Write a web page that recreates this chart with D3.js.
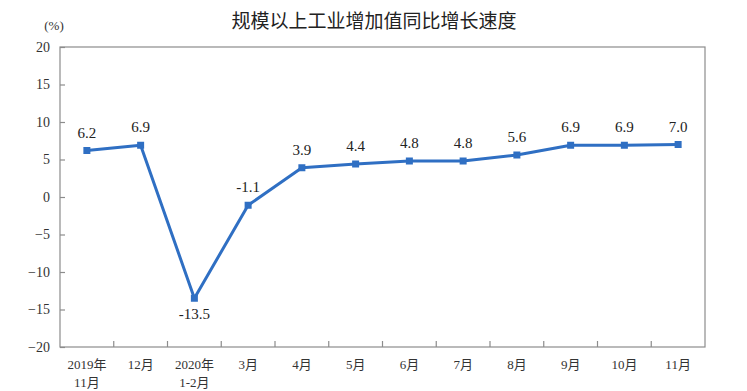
<!DOCTYPE html>
<html>
<head>
<meta charset="utf-8">
<script src="https://cdn.jsdelivr.net/npm/d3@7"></script>
<style>
  body { margin: 0; background: #fff; }
</style>
</head>
<body>
<div id="chart"></div>
<script>
// chart data
var months = ["2019年\n11月", "12月", "2020年\n1-2月", "3月", "4月", "5月", "6月", "7月", "8月", "9月", "10月", "11月"];
var growth = [6.2, 6.9, -13.5, -1.1, 3.9, 4.4, 4.8, 4.8, 5.6, 6.9, 6.9, 7.0];
var yTicks = [-20, -15, -10, -5, 0, 5, 10, 15, 20];

var width = 747, height = 391;
var margin = {top: 47, right: 42, bottom: 44, left: 60};
var lineColor = "#2f6fc3";
var axisColor = "#8c8c8c";
var serif = "'Liberation Serif', 'Times New Roman', 'Noto Sans CJK SC', serif";

var svg = d3.select("#chart").append("svg")
  .attr("width", width)
  .attr("height", height);

var x = d3.scaleBand()
  .domain(months)
  .range([margin.left, width - margin.right]);

var y = d3.scaleLinear()
  .domain([-20, 20])
  .range([height - margin.bottom, margin.top]);

// title
svg.append("text")
  .attr("x", 374)
  .attr("y", 28)
  .attr("text-anchor", "middle")
  .attr("font-family", "'Noto Sans CJK SC', sans-serif")
  .attr("font-size", "19px")
  .attr("fill", "#222")
  .text("规模以上工业增加值同比增长速度");

// unit
svg.append("text")
  .attr("x", 54)
  .attr("y", 30)
  .attr("text-anchor", "middle")
  .attr("font-family", serif)
  .attr("font-size", "13px")
  .attr("fill", "#333")
  .text("(%)");

// frame
svg.append("rect")
  .attr("x", margin.left)
  .attr("y", margin.top)
  .attr("width", width - margin.left - margin.right)
  .attr("height", height - margin.top - margin.bottom)
  .attr("fill", "none")
  .attr("stroke", axisColor)
  .attr("stroke-width", 1.2);

// y axis, ticks point inward
var yAxis = svg.append("g")
  .attr("transform", "translate(" + margin.left + ",0)")
  .call(d3.axisRight(y).tickValues(yTicks).tickSize(5).tickFormat(d3.format("d")));
yAxis.select(".domain").remove();
yAxis.selectAll("line").attr("stroke", axisColor).attr("stroke-width", 1.2);
yAxis.selectAll("text")
  .attr("x", -10)
  .attr("text-anchor", "end")
  .attr("font-family", serif)
  .attr("font-size", "14px")
  .attr("fill", "#333");

// x axis ticks at band edges
var edges = months.slice(1).map(function(m) { return x(m); });
svg.selectAll("line.xtick")
  .data(edges)
  .enter()
  .append("line")
  .attr("class", "xtick")
  .attr("x1", d => d).attr("x2", d => d)
  .attr("y1", height - margin.bottom)
  .attr("y2", height - margin.bottom - 6)
  .attr("stroke", axisColor)
  .attr("stroke-width", 1.2);

// x labels, may have two lines
var xl = svg.selectAll("text.xlab")
  .data(months)
  .enter()
  .append("text")
  .attr("class", "xlab")
  .attr("text-anchor", "middle")
  .attr("font-family", serif)
  .attr("font-size", "13px")
  .attr("fill", "#333")
  .attr("transform", d => "translate(" + (x(d) + x.bandwidth() / 2) + "," + (height - margin.bottom + 22) + ")");
xl.each(function(d) {
  var lines = d.split("\n");
  var t = d3.select(this);
  lines.forEach(function(s, i) {
    t.append("tspan").attr("x", 0).attr("dy", i ? 18 : 0).text(s);
  });
});

// line
var line = d3.line()
  .x((d, i) => x(months[i]) + x.bandwidth() / 2)
  .y(d => y(d));

svg.append("path")
  .datum(growth)
  .attr("d", line)
  .attr("fill", "none")
  .attr("stroke", lineColor)
  .attr("stroke-width", 3)
  .attr("stroke-linejoin", "round");

// markers
svg.selectAll("rect.pt")
  .data(growth)
  .enter()
  .append("rect")
  .attr("class", "pt")
  .attr("x", (d, i) => x(months[i]) + x.bandwidth() / 2 - 3.5)
  .attr("y", d => y(d) - 3.5)
  .attr("width", 7)
  .attr("height", 7)
  .attr("fill", lineColor);

// value labels
svg.selectAll("text.val")
  .data(growth)
  .enter()
  .append("text")
  .attr("class", "val")
  .attr("x", (d, i) => x(months[i]) + x.bandwidth() / 2)
  .attr("y", d => d < -5 ? y(d) + 21 : y(d) - 13)
  .attr("text-anchor", "middle")
  .attr("font-family", serif)
  .attr("font-size", "15px")
  .attr("fill", "#222")
  .text(d => d.toFixed(1));
</script>
</body>
</html>
